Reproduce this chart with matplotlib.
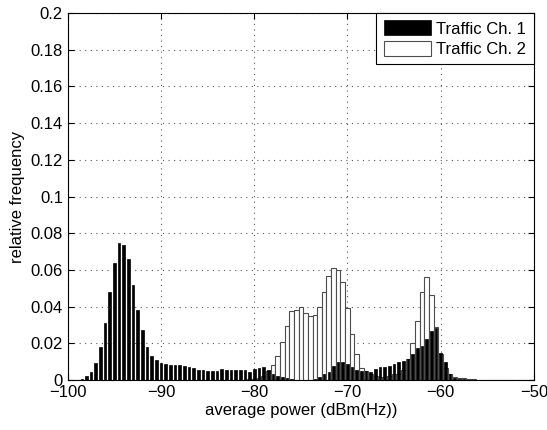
import numpy as np
import matplotlib
matplotlib.use("Agg")
import matplotlib.pyplot as plt

plt.rcParams['font.family'] = ['Liberation Sans', 'DejaVu Sans']

# centres des classes (dBm(Hz)), pas de 0.5
power = np.arange(-100, -49.75, 0.5)

# Traffic Ch. 1 (barres noires)
ch1 = [0, 0.0002, 0.0003, 0.0007, 0.002, 0.0043, 0.0093, 0.018, 0.031, 0.048,
       0.064, 0.0745, 0.0735, 0.066, 0.052, 0.0384, 0.0271, 0.0179, 0.0129, 0.0107,
       0.0095, 0.0089, 0.0084, 0.0080, 0.0084, 0.0075, 0.0071, 0.0064, 0.0057, 0.0054,
       0.0050, 0.0050, 0.0050, 0.0059, 0.0054, 0.0054, 0.0054, 0.0054, 0.0054, 0.0046,
       0.0058, 0.0065, 0.0069, 0.0054, 0.0036, 0.0022, 0.0017, 0.0012, 0.0005, 0.0003,
       0.0003, 0.0003, 0.0003, 0.0004, 0.0016, 0.0031, 0.0045, 0.0075, 0.0096, 0.0098,
       0.0089, 0.0070, 0.0056, 0.0052, 0.0048, 0.0043, 0.0060, 0.0071, 0.0070, 0.0077,
       0.0088, 0.0099, 0.0104, 0.0114, 0.0141, 0.0177, 0.0188, 0.0223, 0.0265, 0.0282,
       0.0150, 0.0098, 0.0036, 0.0014, 0.0007, 0.0004, 0.0003, 0.0003, 0.0002, 0.0002,
       0.0002, 0.0001, 0.0001, 0.0001, 0.0001, 0, 0, 0, 0, 0,
       0]

# Traffic Ch. 2 (barres blanches)
ch2 = [0, 0, 0, 0, 0, 0, 0, 0, 0, 0,
       0, 0, 0, 0, 0, 0, 0, 0, 0, 0,
       0, 0, 0, 0, 0, 0, 0, 0, 0, 0,
       0, 0, 0, 0, 0, 0, 0, 0.0002, 0.0003, 0.0004,
       0.0006, 0.0009, 0.0022, 0.005, 0.008, 0.0134, 0.021, 0.0295, 0.0375, 0.0384,
       0.0398, 0.0366, 0.0348, 0.0352, 0.0396, 0.0480, 0.0566, 0.0610, 0.0602, 0.0534,
       0.0395, 0.0250, 0.0140, 0.0066, 0.0052, 0.0036, 0.0021, 0.0018, 0.0018, 0.0023,
       0.0032, 0.0036, 0.0057, 0.0116, 0.0201, 0.0323, 0.0479, 0.0560, 0.0461, 0.0291,
       0.0143, 0.0068, 0.0036, 0.0018, 0.0011, 0.0009, 0.0005, 0.0005, 0.0003, 0.0003,
       0.0003, 0.0003, 0.0003, 0.0003, 0.0002, 0.0002, 0.0001, 0, 0, 0,
       0]

assert len(ch1) == len(power) and len(ch2) == len(power)

fig = plt.figure(figsize=(5.47, 4.30), dpi=100)
ax = fig.add_axes([0.124, 0.116, 0.852, 0.854])

ax.bar(power, ch2, width=0.5, color='white', edgecolor='0.3', linewidth=0.8,
       label='Traffic Ch. 2', zorder=2)
ax.bar(power, ch1, width=0.28, color='black', edgecolor='black', linewidth=0.5,
       label='Traffic Ch. 1', zorder=3)

ax.set_xlim(-100, -50)
ax.set_ylim(0, 0.2)
ax.set_xticks(np.arange(-100, -49, 10))
ax.set_yticks(np.arange(0, 0.201, 0.02))
ax.set_yticklabels(['0', '0.02', '0.04', '0.06', '0.08', '0.1', '0.12',
                    '0.14', '0.16', '0.18', '0.2'])

ax.set_axisbelow(True)
ax.grid(True, linestyle=(0, (1, 4)), color='0.35', linewidth=0.8)
ax.tick_params(direction='in', top=True, right=True, labelsize=12, length=4)
for s in ax.spines.values():
    s.set_linewidth(0.8)

ax.set_xlabel('average power (dBm(Hz))', fontsize=12, labelpad=2)
ax.set_ylabel('relative frequency', fontsize=12, labelpad=4)

handles, labels = ax.get_legend_handles_labels()
leg = ax.legend(handles[::-1], labels[::-1], loc='upper right', fontsize=12,
                fancybox=False, framealpha=1, edgecolor='black',
                borderaxespad=0, handlelength=2.8, handleheight=1.0,
                borderpad=0.45, labelspacing=0.25, handletextpad=0.35)
leg.get_frame().set_linewidth(0.8)

plt.savefig('out.png', dpi=100)
